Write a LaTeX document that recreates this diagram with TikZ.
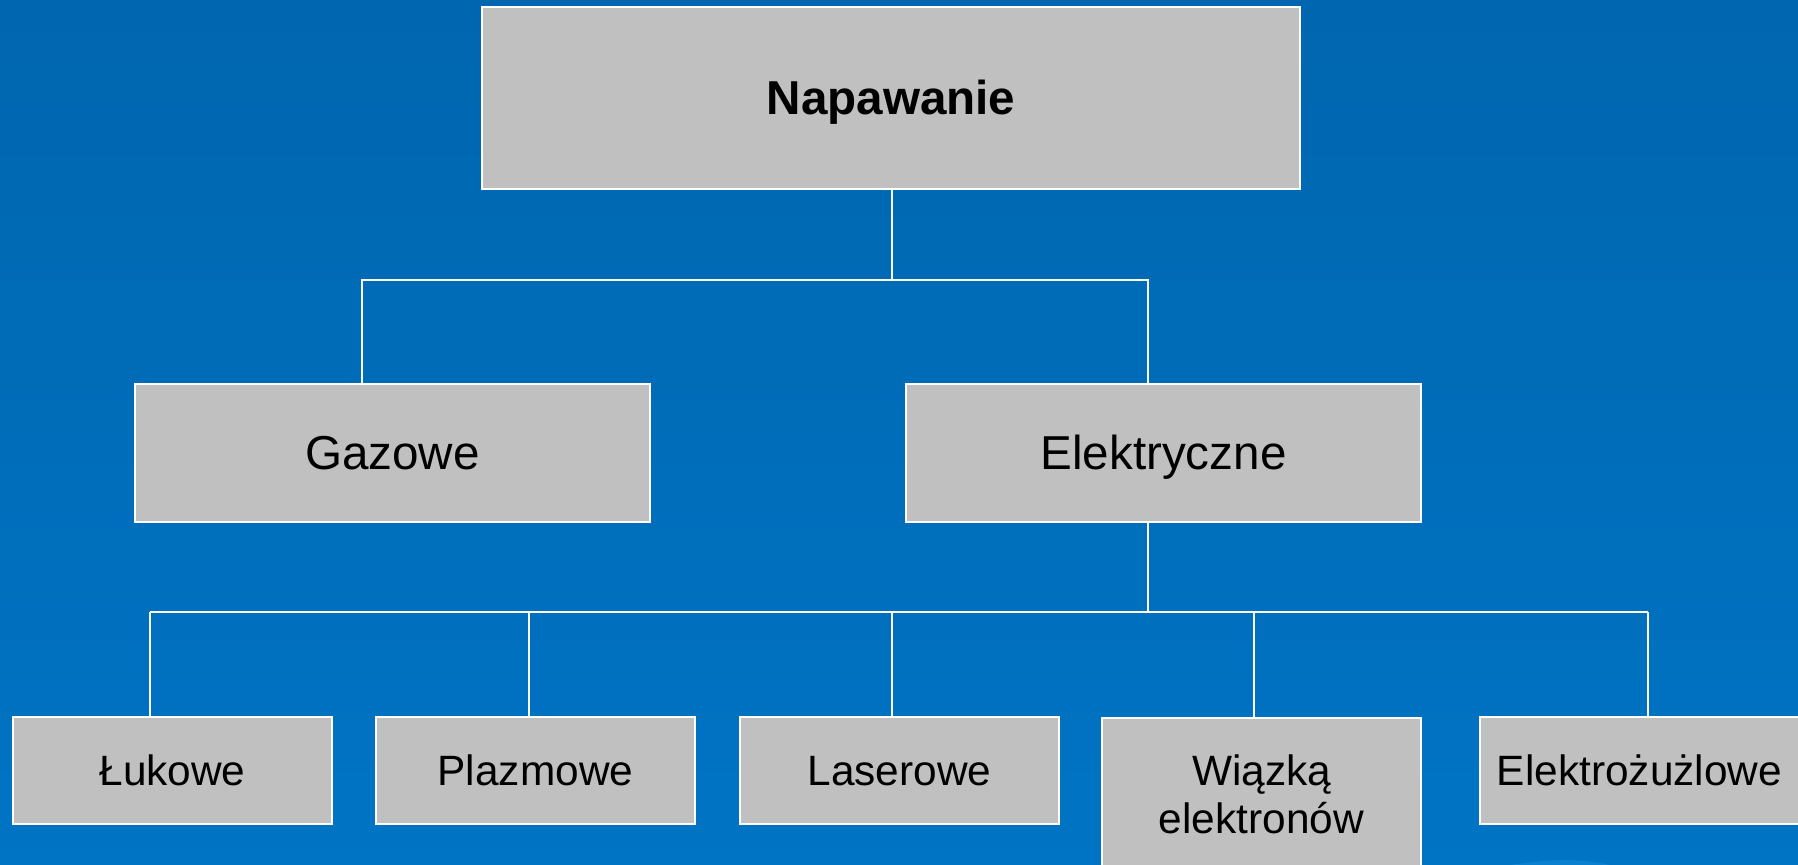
\documentclass[tikz,border=0pt]{standalone}
\usepackage{fontspec}
\setmainfont{Liberation Sans}
\definecolor{bgtop}{RGB}{0,102,175}
\definecolor{bgbot}{RGB}{0,116,196}
\definecolor{boxgray}{RGB}{192,192,192}
\definecolor{swoosh}{RGB}{20,140,220}
\tikzset{
  box/.style={draw=white, line width=0.8pt, fill=boxgray, text=black, inner sep=0pt, align=center},
  big/.style={box, font=\fontsize{23.8}{27}\selectfont, text height=17pt, text depth=0pt},
  small/.style={box, font=\fontsize{21.2}{24}\selectfont, minimum width=159.5pt, minimum height=53.5pt, text height=15.2pt, text depth=0pt},
  link/.style={draw=white, line width=1pt}
}
\begin{document}
\begin{tikzpicture}[x=0.5pt, y=-0.5pt]
\useasboundingbox (0,0) rectangle (1798,865);
\shade[top color=bgtop, bottom color=bgbot] (0,0) rectangle (1798,865);
\fill[swoosh, opacity=0.5] (1510,865) .. controls (1550,859) and (1580,858) .. (1610,865) -- cycle;

% top
\node[big, minimum width=409pt, minimum height=91pt, font=\fontsize{23.8}{27}\selectfont\bfseries] (nap) at (891,98) {Napawanie};
% second level
\node[big, minimum width=257.5pt, minimum height=69pt] (gaz) at (392.5,453) {Gazowe};
\node[big, minimum width=257.5pt, minimum height=69pt] (ele) at (1163.5,453) {Elektryczne};
% third level
\node[small] (luk) at (172.5,770.5) {Łukowe};
\node[small] (pla) at (535.5,770.5) {Plazmowe};
\node[small] (las) at (899.5,770.5) {Laserowe};
\node[small, minimum height=76pt, text height=39.5pt, text depth=0pt] (wia) at (1261.5,794) {Wiązką\\elektronów};
\node[small] (elz) at (1639.5,770.5) {Elektrożużlowe};

% junctions
\coordinate (j1) at (892,280);
\coordinate (gj) at (362,280);
\coordinate (ej) at (1148,280);
\coordinate (j2) at (1148,612);
\coordinate (lj) at (150,612);
\coordinate (pj) at (529,612);
\coordinate (aj) at (892,612);
\coordinate (wj) at (1254,612);
\coordinate (zj) at (1648,612);

\draw[link] (j1 |- nap.south) -- (j1);
\draw[link] (gj |- gaz.north) -- (gj) -- (ej) -- (ej |- ele.north);
\draw[link] (j2 |- ele.south) -- (j2);
\draw[link] (lj) -- (zj);
\draw[link] (lj) -- (lj |- luk.north);
\draw[link] (pj) -- (pj |- pla.north);
\draw[link] (aj) -- (aj |- las.north);
\draw[link] (wj) -- (wj |- wia.north);
\draw[link] (zj) -- (zj |- elz.north);
\end{tikzpicture}
\end{document}
